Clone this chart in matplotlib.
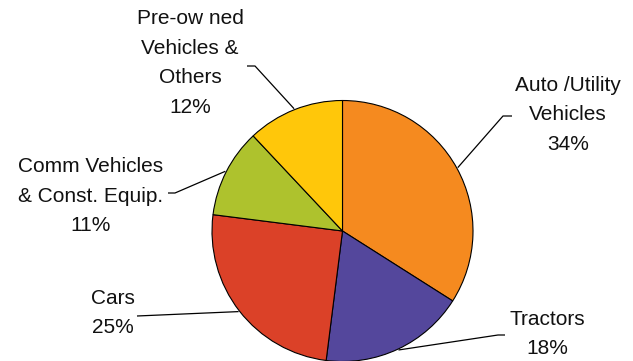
import numpy as np
import matplotlib
matplotlib.use("Agg")
import matplotlib.pyplot as plt

# Data
categories = ["Auto /Utility\nVehicles", "Tractors", "Cars",
              "Comm Vehicles\n& Const. Equip.", "Pre-ow ned\nVehicles &\nOthers"]
shares = [34, 18, 25, 11, 12]
colors = ["#F58A1F", "#54479C", "#DB4128", "#AEC22D", "#FFC70A"]

W, H = 633, 361
fig = plt.figure(figsize=(W / 100, H / 100), dpi=100)
ax = fig.add_axes([0, 0, 1, 1])

cx, cy, r = 342.5, H - 231, 130.5
wedges, _ = ax.pie(shares, colors=colors, startangle=90, counterclock=False,
                   center=(cx, cy), radius=r, frame=True,
                   wedgeprops=dict(edgecolor="black", linewidth=0.8))
ax.set_xlim(0, W)
ax.set_ylim(0, H)
ax.set_aspect("equal")
ax.axis("off")

# label layout (pixel positions: text block center, leader elbow, leader end)
layout = [
    dict(txt=(568, 115), elbow=(503, 116), end=(512, 116)),
    dict(txt=(547, 334), elbow=(498, 335), end=(505, 335)),
    dict(txt=(113, 313), elbow=None, end=(137, 316)),
    dict(txt=(91, 196), elbow=(175, 193), end=(168, 193)),
    dict(txt=(190, 63), elbow=(255, 66), end=(247, 66)),
]

font = dict(family=["Liberation Sans", "DejaVu Sans"], size=15, color="#111111")
for w, cat, val, lay in zip(wedges, categories, shares, layout):
    mid = np.deg2rad((w.theta1 + w.theta2) / 2)
    px = cx + (r + 1) * np.cos(mid)
    py = cy + (r + 1) * np.sin(mid)
    pts = [(px, py)]
    if lay["elbow"] is not None:
        pts.append((lay["elbow"][0], H - lay["elbow"][1]))
    pts.append((lay["end"][0], H - lay["end"][1]))
    xs, ys = zip(*pts)
    ax.plot(xs, ys, color="black", lw=0.9, solid_capstyle="butt")
    ax.text(lay["txt"][0], H - lay["txt"][1], f"{cat}\n{val}%",
            ha="center", va="center", multialignment="center",
            linespacing=1.72, **font)

fig.savefig("out.png", dpi=100)
